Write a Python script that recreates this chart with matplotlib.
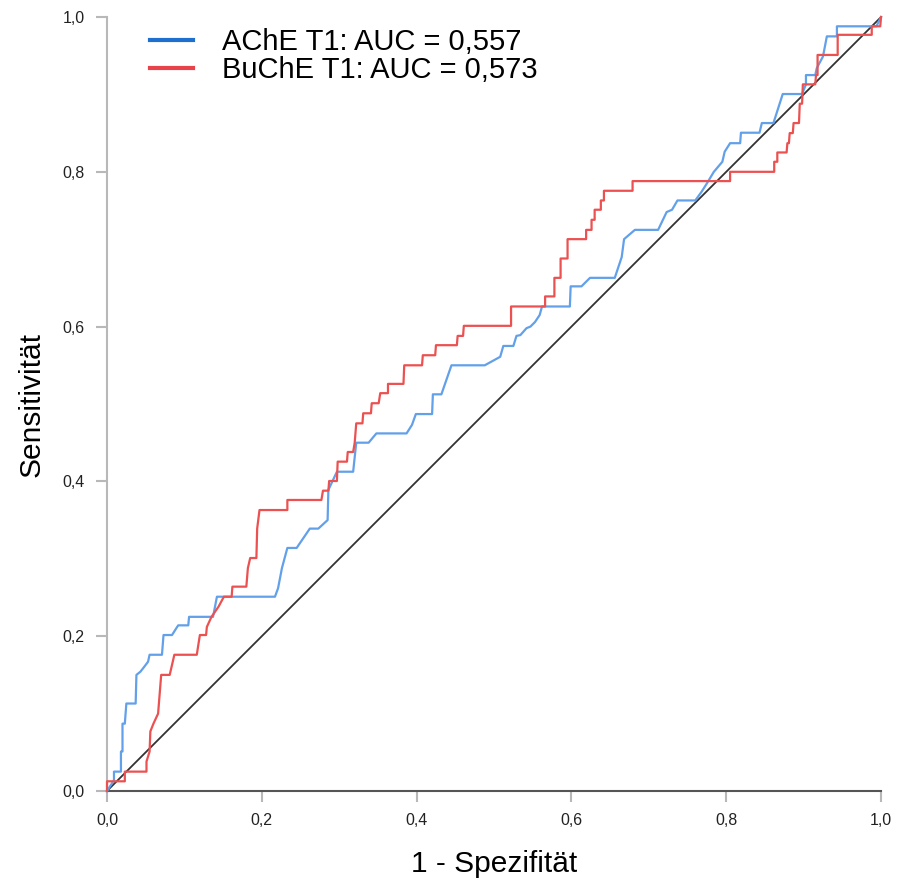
import matplotlib
matplotlib.use("Agg")
import matplotlib.pyplot as plt
from matplotlib.lines import Line2D

plt.rcParams['font.family'] = ['Liberation Sans', 'DejaVu Sans']

# ROC points (1 - specificity, sensitivity)
ache_fpr = [0.0, 0.009, 0.009, 0.018, 0.018, 0.020, 0.020, 0.023, 0.025, 0.037, 0.038,
            0.043, 0.047, 0.053, 0.055, 0.071, 0.073, 0.084, 0.090, 0.092, 0.105, 0.106,
            0.137, 0.142, 0.217, 0.221, 0.226, 0.233, 0.245, 0.262, 0.273, 0.285, 0.286,
            0.297, 0.318, 0.322, 0.338, 0.348, 0.387, 0.394, 0.399, 0.420, 0.421, 0.432,
            0.445, 0.488, 0.508, 0.512, 0.525, 0.529, 0.534, 0.542, 0.547, 0.553, 0.559,
            0.562, 0.598, 0.599, 0.613, 0.624, 0.656, 0.665, 0.668, 0.682, 0.712, 0.723,
            0.730, 0.737, 0.760, 0.768, 0.775, 0.784, 0.795, 0.798, 0.805, 0.818, 0.819,
            0.843, 0.846, 0.861, 0.873, 0.898, 0.903, 0.903, 0.915, 0.917, 0.925, 0.930,
            0.943, 0.943, 0.994, 1.0]
ache_tpr = [0.0, 0.014, 0.025, 0.025, 0.051, 0.051, 0.087, 0.087, 0.113, 0.113, 0.150,
            0.154, 0.159, 0.167, 0.176, 0.176, 0.2015, 0.2015, 0.211, 0.214, 0.214, 0.225,
            0.225, 0.251, 0.251, 0.262, 0.288, 0.314, 0.314, 0.339, 0.339, 0.350, 0.389,
            0.4125, 0.4125, 0.450, 0.450, 0.462, 0.462, 0.473, 0.487, 0.487, 0.5125, 0.5125,
            0.550, 0.550, 0.561, 0.575, 0.575, 0.588, 0.589, 0.598, 0.600, 0.606, 0.615,
            0.626, 0.626, 0.652, 0.652, 0.663, 0.663, 0.690, 0.713, 0.725, 0.725, 0.748,
            0.751, 0.763, 0.763, 0.774, 0.785, 0.800, 0.813, 0.826, 0.837, 0.837, 0.8505,
            0.8505, 0.863, 0.863, 0.9005, 0.9005, 0.913, 0.925, 0.925, 0.934, 0.949, 0.975,
            0.975, 0.988, 0.988, 1.0]

buche_fpr = [0.0, 0.0, 0.023, 0.023, 0.051, 0.051, 0.055, 0.056, 0.060, 0.066, 0.070,
             0.081, 0.084, 0.087, 0.116, 0.118, 0.120, 0.128, 0.129, 0.135, 0.144, 0.151,
             0.161, 0.162, 0.180, 0.182, 0.185, 0.193, 0.194, 0.197, 0.233, 0.233, 0.277,
             0.279, 0.286, 0.287, 0.297, 0.298, 0.310, 0.311, 0.318, 0.320, 0.322, 0.330,
             0.331, 0.341, 0.342, 0.351, 0.353, 0.363, 0.363, 0.383, 0.384, 0.407, 0.408,
             0.424, 0.425, 0.452, 0.453, 0.460, 0.461, 0.522, 0.522, 0.566, 0.566, 0.578,
             0.578, 0.586, 0.586, 0.595, 0.595, 0.619, 0.619, 0.626, 0.626, 0.630, 0.630,
             0.638, 0.638, 0.642, 0.642, 0.679, 0.679, 0.805, 0.805, 0.862, 0.862, 0.866,
             0.866, 0.878, 0.879, 0.881, 0.882, 0.886, 0.887, 0.894, 0.895, 0.898, 0.899,
             0.915, 0.916, 0.918, 0.918, 0.944, 0.944, 0.988, 0.988, 0.999, 1.0]
buche_tpr = [0.0, 0.0125, 0.0125, 0.025, 0.025, 0.038, 0.051, 0.077, 0.087, 0.100, 0.150,
             0.150, 0.163, 0.176, 0.176, 0.189, 0.2015, 0.2015, 0.212, 0.225, 0.238, 0.251,
             0.251, 0.264, 0.264, 0.288, 0.301, 0.301, 0.339, 0.363, 0.363, 0.376, 0.376,
             0.388, 0.388, 0.4005, 0.4005, 0.4255, 0.4255, 0.438, 0.438, 0.450, 0.475, 0.475,
             0.488, 0.488, 0.501, 0.501, 0.514, 0.514, 0.526, 0.526, 0.550, 0.550, 0.563,
             0.563, 0.576, 0.576, 0.588, 0.588, 0.601, 0.601, 0.626, 0.626, 0.639, 0.639,
             0.663, 0.663, 0.688, 0.688, 0.713, 0.713, 0.725, 0.725, 0.738, 0.738, 0.751,
             0.751, 0.763, 0.763, 0.7755, 0.7755, 0.788, 0.788, 0.800, 0.800, 0.813, 0.813,
             0.825, 0.825, 0.837, 0.837, 0.850, 0.850, 0.863, 0.863, 0.888, 0.888, 0.913,
             0.913, 0.925, 0.925, 0.951, 0.951, 0.977, 0.977, 0.988, 0.988, 1.0]

labels = ['AChE T1: AUC = 0,557', 'BuChE T1: AUC = 0,573']
ticks = [0.0, 0.2, 0.4, 0.6, 0.8, 1.0]
tick_labels = ['0,0', '0,2', '0,4', '0,6', '0,8', '1,0']

fig = plt.figure(figsize=(8.97, 8.82), dpi=100)
ax = fig.add_axes([0.1193, 0.1032, 0.8629, 0.8775])

ax.plot([0, 1], [0, 1], color='#333333', lw=1.3, zorder=2, clip_on=False)
ax.plot(ache_fpr, ache_tpr, color='#62a0ea', lw=1.6, zorder=3, clip_on=False)
ax.plot(buche_fpr, buche_tpr, color='#ec5151', lw=1.6, zorder=4, clip_on=False)

ax.set_xlim(0, 1)
ax.set_ylim(0, 1)
ax.set_xticks(ticks)
ax.set_xticklabels(tick_labels)
ax.set_yticks(ticks)
ax.set_yticklabels(tick_labels)
ax.tick_params(axis='both', direction='out', length=8, width=1.5, color='#b8b8b8',
               labelsize=11.5, labelcolor='#222222', pad=8)

for s in ['top', 'right']:
    ax.spines[s].set_visible(False)
ax.spines['left'].set_color('#b8b8b8')
ax.spines['left'].set_linewidth(1.5)
ax.spines['bottom'].set_color('#555555')
ax.spines['bottom'].set_linewidth(1.5)

ax.set_xlabel('1 - Spezifität', fontsize=21.5, labelpad=16)
ax.set_ylabel('Sensitivität', fontsize=21.5, labelpad=12)

handles = [Line2D([], [], color='#1f6fcf', lw=3), Line2D([], [], color='#e8424a', lw=3)]
ax.legend(handles, labels, loc='upper left', bbox_to_anchor=(0.021, 1.02), frameon=False,
          fontsize=21, handlelength=1.5, handletextpad=1.0, labelspacing=0.0)

fig.savefig('out.png', dpi=100)
